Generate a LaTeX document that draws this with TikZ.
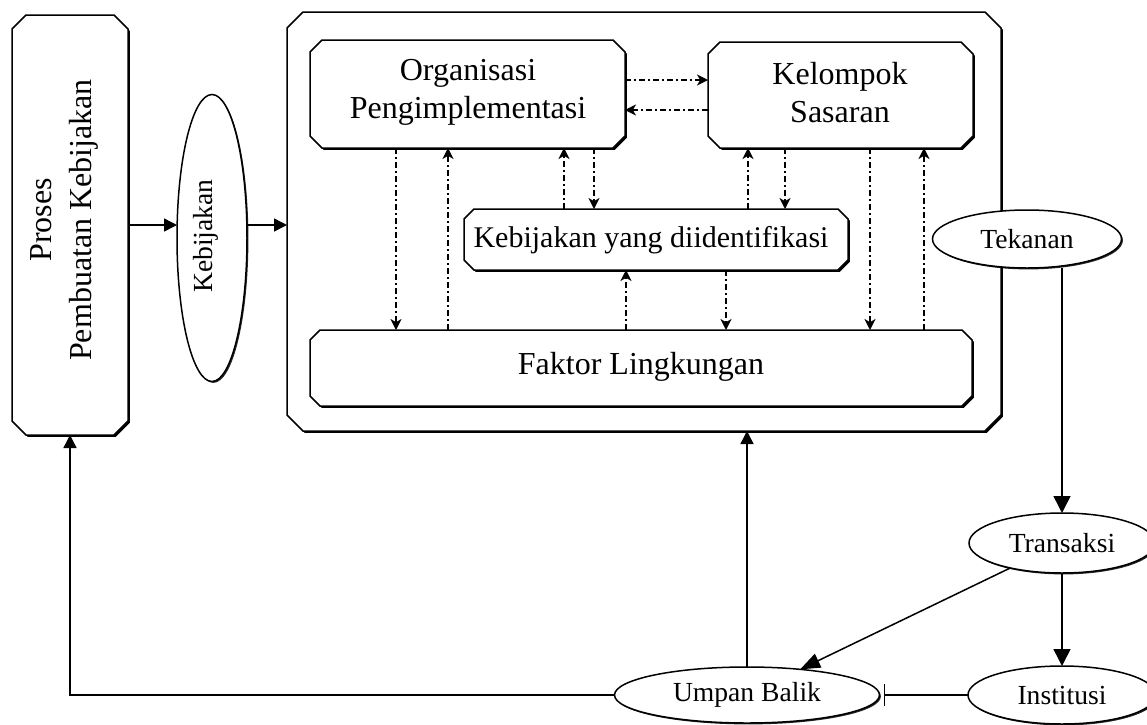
\documentclass[tikz,border=0pt]{standalone}
\usepackage{fontspec}
\setmainfont{Liberation Serif}
\usetikzlibrary{arrows.meta,calc,shapes.geometric,shadows}

% outline of a chamfered box around node #1, corner cut #2, shifted by #3
\newcommand\chpath[3]{($(#1.north west)+(#2,0pt)+(#3)$) -- ($(#1.north east)+(-#2,0pt)+(#3)$) -- ($(#1.north east)+(0pt,-#2)+(#3)$) -- ($(#1.south east)+(0pt,#2)+(#3)$) -- ($(#1.south east)+(-#2,0pt)+(#3)$) -- ($(#1.south west)+(#2,0pt)+(#3)$) -- ($(#1.south west)+(0pt,#2)+(#3)$) -- ($(#1.north west)+(0pt,-#2)+(#3)$) -- cycle}
% chamfered box with a dark shadow on its lower right side
\newcommand\chbox[2]{%
  \fill[black] \chpath{#1}{#2}{0.9pt,-0.9pt};
  \draw[line width=0.75pt, fill=white] \chpath{#1}{#2}{0pt,0pt};}

\tikzset{
  every node/.style={inner sep=0pt, outer sep=0pt},
  area/.style 2 args={rectangle, minimum width=#1, minimum height=#2},
  bigfont/.style={font=\fontsize{16}{19}\selectfont},
  kidfont/.style={font=\fontsize{15}{18}\selectfont},
  smallfont/.style={font=\fontsize{13.8}{16}\selectfont},
  oval/.style={ellipse, draw, line width=0.75pt, fill=white, smallfont,
    drop shadow={shadow xshift=0.7pt, shadow yshift=-0.7pt, fill=black, opacity=0.85}},
  conn/.style={line width=0.75pt},
  sarrow/.style={conn, -{Triangle[length=6.5pt,width=6.5pt]}},
  barrow/.style={conn, -{Triangle[length=8.5pt,width=8.5pt]}},
  dd/.style={line width=0.8pt, dash pattern=on 3pt off 1.6pt on 0.8pt off 1.6pt,
    -{Stealth[length=5.5pt,width=5.5pt,inset=1.6pt]}},
}

\begin{document}
\begin{tikzpicture}[x=0.5pt, y=-0.5pt]
\useasboundingbox (0,0) rectangle (1147,724);
\clip (0,0) rectangle (1147,724);

% box areas
\node[area={58pt}{210pt}] (proses) at (70,225) {};
\node[area={357pt}{209.5pt}] (outer) at (644,221.5) {};
\node[area={157.5pt}{54pt}] (org) at (467.5,94) {};
\node[area={132.5pt}{53pt}] (kel) at (840.5,95) {};
\node[area={192pt}{30.5pt}] (kid) at (656,239.5) {};
\node[area={331pt}{38pt}] (fak) at (641,368) {};

\chbox{proses}{7pt}
\chbox{outer}{8pt}
\chbox{org}{6pt}
\chbox{kel}{6pt}
\chbox{kid}{5pt}
\chbox{fak}{5pt}

% box texts
\node[rotate=90, align=center, font=\fontsize{16}{20}\selectfont] (prosestext) at (64,220) {Proses\\Pembuatan Kebijakan};
\node[bigfont, align=center] (orgtext) at (468,92) {Organisasi\\Pengimplementasi};
\node[bigfont, align=center] (keltext) at (840,93) {Kelompok\\Sasaran};
\node[kidfont] (kidtext) at (651,240) {Kebijakan yang diidentifikasi};
\node[bigfont] (faktext) at (641,367) {Faktor Lingkungan};

% ovals
\node[oval, minimum width=35pt, minimum height=143.5pt] (keb) at (212,238) {};
\node[smallfont, rotate=90] (kebtext) at (206,236) {Kebijakan};
\node[oval, minimum width=94.5pt, minimum height=29pt] (tek) at (1027,239) {Tekanan};
\node[oval, minimum width=93pt, minimum height=30pt] (tr) at (1062,543) {Transaksi};
\node[oval, minimum width=94pt, minimum height=29pt] (ins) at (1062,695) {Institusi};
\node[oval, minimum width=132.5pt, minimum height=28pt] (ub) at (747,695) {Umpan Balik};

% columns and rows of the dash-dot links
\coordinate (v1) at (396,0);
\coordinate (v2) at (448,0);
\coordinate (v3) at (564,0);
\coordinate (v4) at (594,0);
\coordinate (v5) at (626,0);
\coordinate (v6) at (726,0);
\coordinate (v7) at (748,0);
\coordinate (v8) at (785,0);
\coordinate (v9) at (870,0);
\coordinate (v10) at (924,0);
\coordinate (h1) at (0,80);
\coordinate (h2) at (0,110);

\draw[dd] (org.east |- h1) -- (kel.west |- h1);
\draw[dd] (kel.west |- h2) -- (org.east |- h2);

\draw[dd] (org.south -| v1) -- (fak.north -| v1);
\draw[dd] (fak.north -| v2) -- (org.south -| v2);
\draw[dd] (kid.north -| v3) -- (org.south -| v3);
\draw[dd] (org.south -| v4) -- (kid.north -| v4);
\draw[dd] (fak.north -| v5) -- (kid.south -| v5);
\draw[dd] (kid.south -| v6) -- (fak.north -| v6);
\draw[dd] (kid.north -| v7) -- (kel.south -| v7);
\draw[dd] (kel.south -| v8) -- (kid.north -| v8);
\draw[dd] (kel.south -| v9) -- (fak.north -| v9);
\draw[dd] (fak.north -| v10) -- (kel.south -| v10);

% solid links
\draw[sarrow] (proses.east) -- (proses.east -| keb.west);
\draw[sarrow] (proses.east -| keb.east) -- (proses.east -| outer.west);
\draw[barrow] (tek.south -| tr.north) -- (tr.north);
\draw[barrow] (tr) -- (ins);
\draw[conn, -{Triangle[length=10pt,width=7.5pt]}] (tr) -- (ub);
\draw[conn, -{Bar[width=11pt]}] (ins.west) -- ([xshift=2pt]ub.east);
\draw[sarrow] (ub.north) -- (ub.north |- outer.south);
\draw[sarrow] (ub.west) -- (ub.west -| proses.south) -- (proses.south);
\end{tikzpicture}
\end{document}
